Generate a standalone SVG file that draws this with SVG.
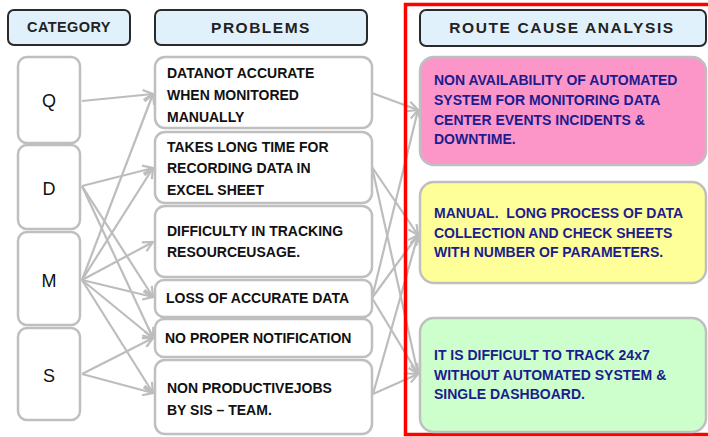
<svg xmlns="http://www.w3.org/2000/svg" width="708" height="437" viewBox="0 0 708 437">
<defs>
<style>
.hdr{fill:#e1f1fc;stroke:#2a2a2a;stroke-width:2}
.cat{fill:#fff;stroke:#bfbfbf;stroke-width:2.5}
.prb{fill:#fff;stroke:#bfbfbf;stroke-width:2.5}
.rc{stroke:#bfbfbf;stroke-width:2.5}
.ht{font-family:"Liberation Sans",Arial,sans-serif;font-weight:bold;fill:#222;text-anchor:middle}
.ct{font-family:"Liberation Sans",Arial,sans-serif;font-size:18px;fill:#111;text-anchor:middle}
.pt{font-family:"Liberation Sans",Arial,sans-serif;font-weight:bold;font-size:14px;fill:#111}
.rt{font-family:"Liberation Sans",Arial,sans-serif;font-weight:bold;font-size:14px;fill:#1c1c8e}
.cn{stroke:#bdbdbd;stroke-width:2.2;fill:none;marker-end:url(#ah)}
</style>
<marker id="ah" viewBox="0 0 12 12" refX="11" refY="6" markerWidth="12" markerHeight="12" markerUnits="userSpaceOnUse" orient="auto">
<path d="M1,1 L11,6 L1,11" fill="none" stroke="#bdbdbd" stroke-width="2.2"/>
</marker>
</defs>
<rect x="0" y="0" width="708" height="437" fill="#fff"/>

<g id="connectors">
<line class="cn" x1="82" y1="101" x2="153" y2="94"/>
<line class="cn" x1="82" y1="280" x2="153" y2="94"/>
<line class="cn" x1="82" y1="186" x2="153" y2="168"/>
<line class="cn" x1="82" y1="280" x2="153" y2="168"/>
<line class="cn" x1="82" y1="280" x2="153" y2="242"/>
<line class="cn" x1="82" y1="186" x2="153" y2="297"/>
<line class="cn" x1="82" y1="280" x2="153" y2="297"/>
<line class="cn" x1="82" y1="186" x2="153" y2="338"/>
<line class="cn" x1="82" y1="280" x2="153" y2="338"/>
<line class="cn" x1="82" y1="374" x2="153" y2="338"/>
<line class="cn" x1="82" y1="280" x2="153" y2="393"/>
<line class="cn" x1="82" y1="374" x2="153" y2="393"/>
<line class="cn" x1="372" y1="93" x2="418" y2="110"/>
<line class="cn" x1="372" y1="298" x2="418" y2="110"/>
<line class="cn" x1="372" y1="167" x2="418" y2="235"/>
<line class="cn" x1="372" y1="298" x2="418" y2="235"/>
<line class="cn" x1="373" y1="394" x2="418" y2="235"/>
<line class="cn" x1="372" y1="167" x2="418" y2="374"/>
<line class="cn" x1="372" y1="298" x2="418" y2="374"/>
<line class="cn" x1="373" y1="394" x2="418" y2="374"/>
</g>

<rect x="405.5" y="4.5" width="312" height="430" fill="none" stroke="#ff0000" stroke-width="3.5"/>

<g id="hdr-category">
<rect class="hdr" x="8" y="10" width="122" height="35" rx="6"/>
<text class="ht" x="69" y="32" font-size="14.5" letter-spacing="0.4">CATEGORY</text>
</g>
<g id="hdr-problems">
<rect class="hdr" x="155" y="10" width="212" height="35" rx="6"/>
<text class="ht" x="261" y="33" font-size="15.5" letter-spacing="1.5">PROBLEMS</text>
</g>
<g id="hdr-rca">
<rect class="hdr" x="420" y="10" width="286" height="36" rx="6"/>
<text class="ht" x="562" y="33" font-size="15.5" letter-spacing="1.6">ROUTE CAUSE ANALYSIS</text>
</g>

<g id="cat-q"><rect class="cat" x="18" y="57" width="62" height="86" rx="9"/><text class="ct" x="49" y="107">Q</text></g>
<g id="cat-d"><rect class="cat" x="18" y="145" width="62" height="84" rx="9"/><text class="ct" x="49" y="195">D</text></g>
<g id="cat-m"><rect class="cat" x="18" y="232" width="62" height="93" rx="9"/><text class="ct" x="49" y="287">M</text></g>
<g id="cat-s"><rect class="cat" x="18" y="328" width="62" height="92" rx="9"/><text class="ct" x="49" y="382">S</text></g>

<g id="prob-1"><rect class="prb" x="155" y="57" width="217" height="71" rx="10"/>
<text class="pt" x="167" y="78">DATANOT ACCURATE</text>
<text class="pt" x="167" y="100">WHEN MONITORED</text>
<text class="pt" x="167" y="122">MANUALLY</text></g>
<g id="prob-2"><rect class="prb" x="155" y="132" width="217" height="71" rx="10"/>
<text class="pt" x="167" y="152">TAKES LONG TIME FOR</text>
<text class="pt" x="167" y="173">RECORDING DATA IN</text>
<text class="pt" x="167" y="195">EXCEL SHEET</text></g>
<g id="prob-3"><rect class="prb" x="155" y="206" width="217" height="71" rx="10"/>
<text class="pt" x="167" y="236">DIFFICULTY IN TRACKING</text>
<text class="pt" x="167" y="257">RESOURCEUSAGE.</text></g>
<g id="prob-4"><rect class="prb" x="155" y="280" width="217" height="37" rx="9"/>
<text class="pt" x="166" y="303">LOSS OF ACCURATE DATA</text></g>
<g id="prob-5"><rect class="prb" x="155" y="319" width="217" height="38" rx="9"/>
<text class="pt" x="165" y="343">NO PROPER NOTIFICATION</text></g>
<g id="prob-6"><rect class="prb" x="155" y="360" width="217" height="74" rx="10"/>
<text class="pt" x="167" y="393">NON PRODUCTIVEJOBS</text>
<text class="pt" x="167" y="415">BY SIS – TEAM.</text></g>

<g id="rc-1"><rect class="rc" x="420" y="57" width="286" height="108" rx="14" fill="#fc96c8"/>
<text class="rt" x="434" y="85">NON AVAILABILITY OF AUTOMATED</text>
<text class="rt" x="434" y="105">SYSTEM FOR MONITORING DATA</text>
<text class="rt" x="434" y="125">CENTER EVENTS INCIDENTS &amp;</text>
<text class="rt" x="434" y="144">DOWNTIME.</text></g>
<g id="rc-2"><rect class="rc" x="420" y="182" width="286" height="101" rx="14" fill="#ffff99"/>
<text class="rt" x="434" y="218" xml:space="preserve">MANUAL.  LONG PROCESS OF DATA</text>
<text class="rt" x="434" y="238">COLLECTION AND CHECK SHEETS</text>
<text class="rt" x="434" y="257">WITH NUMBER OF PARAMETERS.</text></g>
<g id="rc-3"><rect class="rc" x="420" y="318" width="286" height="114" rx="14" fill="#ccffcc"/>
<text class="rt" x="434" y="360">IT IS DIFFICULT TO TRACK 24x7</text>
<text class="rt" x="434" y="380">WITHOUT AUTOMATED SYSTEM &amp;</text>
<text class="rt" x="434" y="399">SINGLE DASHBOARD.</text></g>
</svg>
